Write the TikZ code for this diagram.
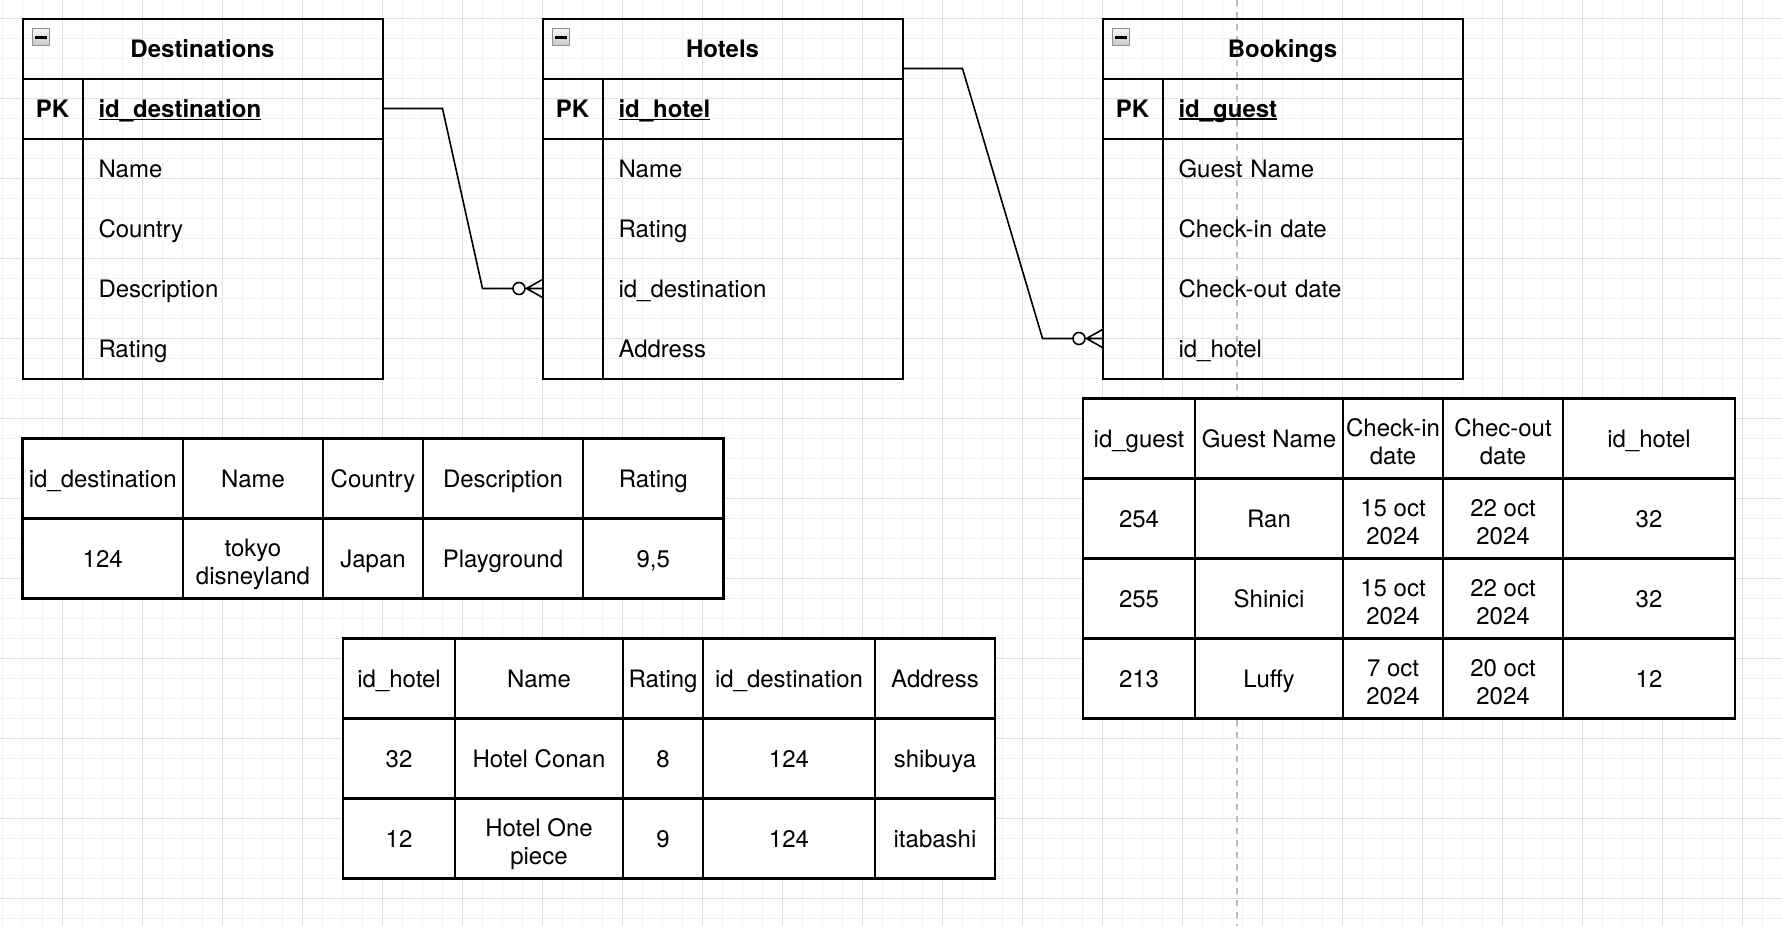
\documentclass[tikz,border=0pt]{standalone}
\usepackage{fontspec}
\setmainfont{TeX Gyre Heros}
\definecolor{iconedge}{RGB}{140,146,166}
\newcommand\keyfield[1]{\setbox0\hbox{#1}\rlap{\rule[-2.8pt]{\wd0}{1.8pt}}\box0}
\newcommand\cellstrut{\rule[-5pt]{0pt}{28pt}}
\newcommand\twolines[2]{\rule{0pt}{29.5pt}#1\\#2}
\tikzset{
	minorline/.style={draw=black!5, line width=1pt},
	majorline/.style={draw=black!12, line width=1.2pt},
	pageline/.style={draw=black!27, line width=2pt, dash pattern=on 6pt off 6pt},
	erframe/.style={draw, line width=2pt, inner sep=0pt, outer sep=0pt, anchor=north west, execute at begin node=\cellstrut},
	ertitle/.style={erframe, minimum width=360pt, minimum height=60pt, font=\bfseries},
	erpk/.style={erframe, minimum width=60pt, minimum height=60pt, font=\bfseries},
	erkey/.style={erframe, minimum height=60pt, inner xsep=16pt, text width=268pt, align=left, font=\bfseries},
	erside/.style={erframe, minimum width=60pt, minimum height=240pt},
	erbody/.style={erframe, minimum width=300pt, minimum height=240pt},
	erfield/.style={anchor=north west, inner sep=0pt, outer sep=0pt, inner xsep=16pt, text width=268pt, minimum height=60pt, align=left, execute at begin node=\cellstrut},
	iconbox/.style={draw=iconedge, line width=1.4pt, top color=black!3, bottom color=black!22, minimum size=17pt, inner sep=0pt},
	iconbar/.style={line width=3pt},
	cell/.style={draw, fill=white, line width=2.1pt, inner sep=0pt, outer sep=0pt, anchor=north west, minimum height=80pt, align=center, execute at begin node=\cellstrut, execute at end node=\cellstrut},
	link/.style={line width=1.6pt},
	zeromany/.pic={
		\draw[link] (-23.5,0) circle (6pt);
		\draw[link] (0,-9) -- (-16,0) -- (0,9) (-16,0) -- (0,0);
	}
}
\begin{document}
\fontsize{24}{27.6}\selectfont
\begin{tikzpicture}[x=1pt,y=-1pt]
	\useasboundingbox (0,0) rectangle (1782,926);
	\fill[white] (0,0) rectangle (1782,926);
	% grid
	\foreach \k in {0,...,89} \draw[minorline] ({2.5+20*\k},0) -- ++(0,926);
	\foreach \k in {0,...,47} \draw[minorline] (0,{-1.5+20*\k}) -- ++(1782,0);
	\foreach \k in {0,...,21} \draw[majorline] ({62.5+80*\k},0) -- ++(0,926);
	\foreach \k in {0,...,11} \draw[majorline] (0,{18.5+80*\k}) -- ++(1782,0);
	\draw[pageline] (1236.5,0) -- (1236.5,926);

	% Destinations
	\node[ertitle] (desttitle) at (22.5,18.5) {Destinations};
	\node[erpk] (destpk) at (22.5,78.5) {PK};
	\node[erkey] (destkey) at (82.5,78.5) {\keyfield{id\_destination}};
	\node[erside] (destside) at (22.5,138.5) {};
	\node[erbody] (destbody) at (82.5,138.5) {};
	\foreach \t [count=\i] in {Name,Country,Description,Rating}
		\node[erfield] (destf\i) at (82.5,{78.5+60*\i}) {\t};
	\node[iconbox] (desticon) at (41,37) {};
	\draw[iconbar] (desticon.center) +(-6,0) -- +(6,0);

	% Hotels
	\node[ertitle] (hottitle) at (542.5,18.5) {Hotels};
	\node[erpk] (hotpk) at (542.5,78.5) {PK};
	\node[erkey] (hotkey) at (602.5,78.5) {\keyfield{id\_hotel}};
	\node[erside] (hotside) at (542.5,138.5) {};
	\node[erbody] (hotbody) at (602.5,138.5) {};
	\foreach \t [count=\i] in {Name,Rating,id\_destination,Address}
		\node[erfield] (hotf\i) at (602.5,{78.5+60*\i}) {\t};
	\node[iconbox] (hoticon) at (561,37) {};
	\draw[iconbar] (hoticon.center) +(-6,0) -- +(6,0);

	% Bookings
	\node[ertitle] (booktitle) at (1102.5,18.5) {Bookings};
	\node[erpk] (bookpk) at (1102.5,78.5) {PK};
	\node[erkey] (bookkey) at (1162.5,78.5) {\keyfield{id\_guest}};
	\node[erside] (bookside) at (1102.5,138.5) {};
	\node[erbody] (bookbody) at (1162.5,138.5) {};
	\foreach \t [count=\i] in {Guest Name,Check-in date,Check-out date,id\_hotel}
		\node[erfield] (bookf\i) at (1162.5,{78.5+60*\i}) {\t};
	\node[iconbox] (bookicon) at (1121,37) {};
	\draw[iconbar] (bookicon.center) +(-6,0) -- +(6,0);

	% relations
	\coordinate (hotin) at (hotf3.west -| hotside.west);
	\draw[link] (destkey.east) -- ++(60,0) -- ([xshift=-60pt]hotin) -- ([xshift=-29.5pt]hotin);
	\pic at (hotin) {zeromany};
	\coordinate (hotout) at ([yshift=10pt]hottitle.south east);
	\path (bookf4.west -| bookside.west) ++(0,-10) coordinate (bookin);
	\draw[link] (hotout) -- ++(60,0) -- ([xshift=-60pt]bookin) -- ([xshift=-29.5pt]bookin);
	\pic at (bookin) {zeromany};

	% destination data
	\foreach \xa/\xb/\t [count=\i] in {22.5/183/id\_destination, 183/323/Name, 323/423/Country, 423/583/Description, 583/723.5/Rating}
		\node[cell, minimum width=\xb-\xa] (dh\i) at (\xa,438.5) {\t};
	\foreach \xa/\xb/\t [count=\i] in {22.5/183/124, 183/323/{\twolines{tokyo}{disneyland}}, 323/423/Japan, 423/583/Playground, 583/723.5/{9,5}}
		\node[cell, minimum width=\xb-\xa] (da\i) at (\xa,518.5) {\t};

	% hotel data
	\foreach \xa/\xb/\t [count=\i] in {343/455/id\_hotel, 455/623/Name, 623/703/Rating, 703/875/id\_destination, 875/995/Address}
		\node[cell, minimum width=\xb-\xa] (hh\i) at (\xa,638.5) {\t};
	\foreach \xa/\xb/\t [count=\i] in {343/455/32, 455/623/Hotel Conan, 623/703/8, 703/875/124, 875/995/shibuya}
		\node[cell, minimum width=\xb-\xa] (ha\i) at (\xa,718.5) {\t};
	\foreach \xa/\xb/\t [count=\i] in {343/455/12, 455/623/{\twolines{Hotel One}{piece}}, 623/703/9, 703/875/124, 875/995/itabashi}
		\node[cell, minimum width=\xb-\xa] (hb\i) at (\xa,798.5) {\t};

	% booking data
	\foreach \xa/\xb/\t [count=\i] in {1083/1195/id\_guest, 1195/1343/Guest Name, 1343/1443/{\twolines{Check-in}{date}}, 1443/1563/{\twolines{Chec-out}{date}}, 1563/1735/id\_hotel}
		\node[cell, minimum width=\xb-\xa] (bh\i) at (\xa,398.5) {\t};
	\foreach \xa/\xb/\t [count=\i] in {1083/1195/254, 1195/1343/Ran, 1343/1443/{\twolines{15 oct}{2024}}, 1443/1563/{\twolines{22 oct}{2024}}, 1563/1735/32}
		\node[cell, minimum width=\xb-\xa] (ba\i) at (\xa,478.5) {\t};
	\foreach \xa/\xb/\t [count=\i] in {1083/1195/255, 1195/1343/Shinici, 1343/1443/{\twolines{15 oct}{2024}}, 1443/1563/{\twolines{22 oct}{2024}}, 1563/1735/32}
		\node[cell, minimum width=\xb-\xa] (bb\i) at (\xa,558.5) {\t};
	\foreach \xa/\xb/\t [count=\i] in {1083/1195/213, 1195/1343/Luffy, 1343/1443/{\twolines{7 oct}{2024}}, 1443/1563/{\twolines{20 oct}{2024}}, 1563/1735/12}
		\node[cell, minimum width=\xb-\xa] (bc\i) at (\xa,638.5) {\t};
\end{tikzpicture}
\end{document}
